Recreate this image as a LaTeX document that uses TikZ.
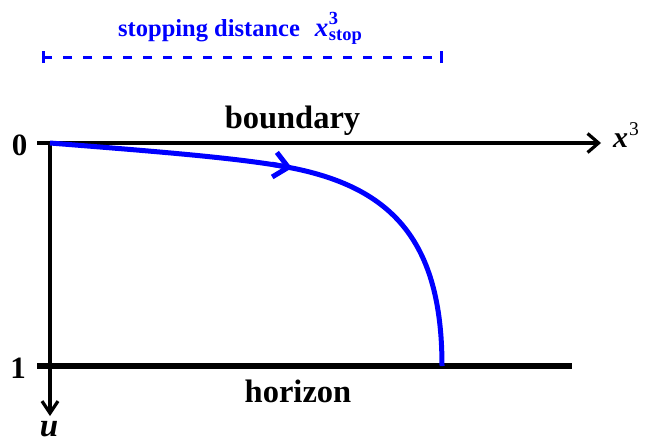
\documentclass[tikz,border=0pt]{standalone}
\usepackage{fontspec}
\setmainfont{Liberation Serif}
\usetikzlibrary{arrows.meta}
\definecolor{pblue}{RGB}{0,0,255}
\tikzset{
  axisline/.style={line width=3.2pt, black},
  horizonline/.style={line width=6pt, black},
  flowline/.style={line width=5pt, pblue, line cap=butt},
  dashline/.style={line width=3pt, pblue, dash pattern=on 8.5pt off 11.5pt},
  endtick/.style={line width=3pt, pblue},
  bigtxt/.style={inner sep=0pt, font=\fontsize{32.5}{36}\selectfont\bfseries},
  numtxt/.style={inner sep=0pt, font=\fontsize{31}{36}\selectfont\bfseries},
}
\newcommand{\smallfs}{\fontsize{18.5}{20}\selectfont}
\begin{document}
\begin{tikzpicture}[x=1pt,y=-1pt]
\useasboundingbox (0,0) rectangle (650,442);
% coordinates
\coordinate (O) at (50,143);
\coordinate (Hl) at (37,143);
\coordinate (Hr) at (601,143);
\coordinate (Vb) at (50,416);
\coordinate (Zl) at (37,366);
\coordinate (Zr) at (572,366);
\coordinate (Dl) at (43,57);
\coordinate (Dr) at (441,57);
\coordinate (Mid) at (292,168);
\coordinate (End) at (442,366);
% stopping distance bar
\draw[dashline] (Dl) -- (Dr);
\draw[endtick] ([yshift=-6pt]Dl) -- ([yshift=6pt]Dl);
\draw[endtick] ([yshift=-6pt]Dr) -- ([yshift=6pt]Dr);
\node[inner sep=0pt, anchor=base west, text=pblue, font=\fontsize{24.5}{28}\selectfont\bfseries] (lbl) at (118,36)
  {stopping distance\hspace{15pt}{\fontsize{27}{30}\selectfont\itshape x}\kern0.5pt\rlap{\raisebox{11.5pt}{\smallfs 3}}\raisebox{-4pt}{\smallfs stop}};
% axes
\draw[axisline, -{Straight Barb[length=11pt,width=19pt]}] (Hl) -- (Hr);
\draw[axisline, -{Straight Barb[length=12pt,width=16pt]}] (O) -- (Vb);
\draw[horizonline] (Zl) -- (Zr);
% labels
\node[numtxt, anchor=base east] (zero) at (27.5,155) {0};
\node[numtxt, anchor=base east] (one) at (26,378) {1};
\node[bigtxt, anchor=base] (bnd) at (292.5,128) {boundary};
\node[bigtxt, anchor=base] (hor) at (298,402) {horizon};
\node[inner sep=0pt, anchor=base west, font=\fontsize{30}{34}\selectfont\bfseries] (x3) at (613,147)
  {\textit{x}\kern1pt\raisebox{12pt}{\fontsize{19.5}{22}\selectfont\mdseries 3}};
\node[inner sep=0pt, anchor=base, font=\fontsize{33}{36}\selectfont\bfseries\itshape] (u) at (49,436) {u};
% trajectory
\draw[flowline] (O) .. controls (150,151) and (242,158) .. (Mid)
  .. controls (392,188) and (442,241) .. (End);
\draw[flowline, -{Straight Barb[length=14pt,width=25pt]}] (272,164.2) -- (Mid);
\end{tikzpicture}
\end{document}
